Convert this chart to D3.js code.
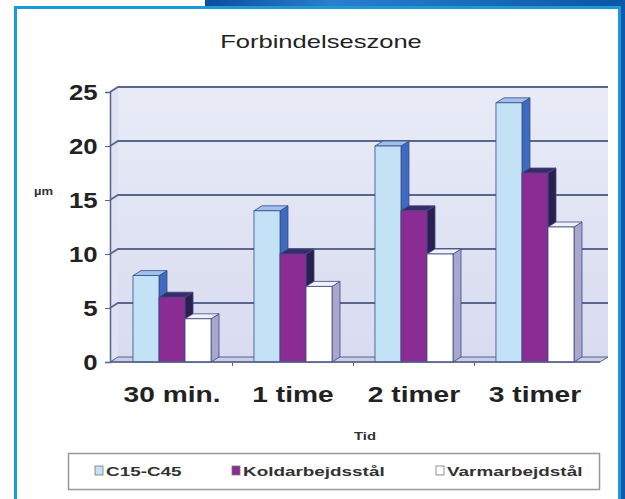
<!DOCTYPE html>
<html>
<head>
<meta charset="utf-8">
<script src="https://cdn.jsdelivr.net/npm/d3@7"></script>
<style>
  body { margin: 0; background: #fff; }
  svg { display: block; font-family: "Liberation Sans", Arial, sans-serif; }
</style>
</head>
<body>
<svg id="chart"></svg>
<script>
// data
const categories = ["30 min.", "1 time", "2 timer", "3 timer"];
const seriesNames = ["C15-C45", "Koldarbejdsstål", "Varmarbejdstål"];
const c15 = [8, 14, 20, 24];
const koldar = [6, 10, 14, 17.5];
const varm = [4, 7, 10, 12.5];
const yTicks = [0, 5, 10, 15, 20, 25];

const seriesValues = [c15, koldar, varm];
const faceColors = [
    { front: "#c4e2f6", top: "#9cc2ec", side: "#3e6bbf" },
    { front: "#8a2c93", top: "#3c2968", side: "#2a1f4e" },
    { front: "#ffffff", top: "#f1f1fa", side: "#a9a7cd" }
];

const W = 625, H = 499;
let svg = d3.select("#chart").attr("width", W).attr("height", H);

// the source picture is stretched sideways, so text is too
function wideText(parent, x, y, sx, txt) {
    return parent.append("text")
        .attr("transform", `translate(${x},${y}) scale(${sx},1)`)
        .text(txt);
}

// frame and top banner
let defs = svg.append("defs");
let bg = defs.append("linearGradient").attr("id", "banner").attr("x1", 0).attr("x2", 1);
bg.append("stop").attr("offset", 0).attr("stop-color", "#0b4c9e");
bg.append("stop").attr("offset", 0.3).attr("stop-color", "#2a7fcf");
bg.append("stop").attr("offset", 1).attr("stop-color", "#0a56a8");
svg.append("rect").attr("x", 205).attr("y", 0).attr("width", W - 205).attr("height", 8).attr("fill", "url(#banner)");
svg.append("rect").attr("x", 620).attr("y", 0).attr("width", 5).attr("height", H).attr("fill", "#0b5aab");
svg.append("rect").attr("x", 15.5).attr("y", 7.5).attr("width", 604).attr("height", 500)
    .attr("fill", "#fff").attr("stroke", "#1a9ad8").attr("stroke-width", 3);

// scales
const dx = 8, dy = -5;
const y = d3.scaleLinear().domain([0, 25]).range([362, 92]);
const x = d3.scaleBand().domain(categories).range([110, 597]).paddingInner(0.355).paddingOuter(0.19);
const xs = d3.scaleBand().domain(seriesNames).range([0, x.bandwidth()]);

const left = 110, right = 600;

// back wall
let wg = defs.append("linearGradient").attr("id", "wall").attr("x1", 0).attr("x2", 0).attr("y1", 0).attr("y2", 1);
wg.append("stop").attr("offset", 0).attr("stop-color", "#e9ebf7");
wg.append("stop").attr("offset", 1).attr("stop-color", "#d8dcef");
svg.append("rect").attr("x", left + dx).attr("y", y(25) + dy).attr("width", right - left)
    .attr("height", y(0) - y(25)).attr("fill", "url(#wall)");
// side wall
svg.append("path")
    .attr("d", `M${left},${y(25)} L${left + dx},${y(25) + dy} L${left + dx},${y(0) + dy} L${left},${y(0)} Z`)
    .attr("fill", "#dfe2f2");
// floor
svg.append("path")
    .attr("d", `M${left},${y(0)} L${left + dx},${y(0) + dy} L${right + dx},${y(0) + dy} L${right},${y(0)} Z`)
    .attr("fill", "#c9cde6").attr("stroke", "#56628f").attr("stroke-width", 1);

// gridlines
svg.append("g").selectAll("path").data(yTicks.filter(d => d > 0)).join("path")
    .attr("d", d => `M${left},${y(d)} L${left + dx},${y(d) + dy} L${right + dx},${y(d) + dy}`)
    .attr("fill", "none").attr("stroke", "#5a668f").attr("stroke-width", 1.8);

// y axis
let yAxis = svg.append("g").attr("transform", `translate(${left},0)`)
    .call(d3.axisLeft(y).tickValues(yTicks).tickSize(5).tickPadding(6));
yAxis.select(".domain").attr("stroke", "#56628f").attr("stroke-width", 1.5);
yAxis.selectAll(".tick line").attr("stroke", "#56628f");
yAxis.selectAll("text").attr("font-size", 23).attr("font-weight", "bold").attr("fill", "#222")
    .attr("font-family", "Liberation Sans, Arial, sans-serif")
    .attr("transform", "scale(1.12,1)");

// bars
let bars = [];
categories.forEach((c, i) => {
    seriesNames.forEach((s, j) => {
        bars.push({ cat: c, series: j, value: seriesValues[j][i] });
    });
});
let barG = svg.append("g").selectAll("g").data(bars).join("g")
    .attr("transform", d => `translate(${x(d.cat) + xs(seriesNames[d.series])},0)`);
const bw = xs.bandwidth();
barG.append("path") // side
    .attr("d", d => `M${bw},${y(d.value)} L${bw + dx},${y(d.value) + dy} L${bw + dx},${y(0) + dy} L${bw},${y(0)} Z`)
    .attr("fill", d => faceColors[d.series].side).attr("stroke", "#3b4a86").attr("stroke-width", 0.8);
barG.append("path") // top
    .attr("d", d => `M0,${y(d.value)} L${dx},${y(d.value) + dy} L${bw + dx},${y(d.value) + dy} L${bw},${y(d.value)} Z`)
    .attr("fill", d => faceColors[d.series].top).attr("stroke", "#3b4a86").attr("stroke-width", 0.8);
barG.append("rect") // front
    .attr("x", 0).attr("y", d => y(d.value)).attr("width", bw).attr("height", d => y(0) - y(d.value))
    .attr("fill", d => faceColors[d.series].front).attr("stroke", "#3b4a86").attr("stroke-width", 0.8);

// x axis
svg.append("line").attr("x1", left).attr("x2", right).attr("y1", y(0)).attr("y2", y(0))
    .attr("stroke", "#56628f").attr("stroke-width", 1.5);
svg.append("g").selectAll("line").data(categories.slice(1)).join("line")
    .attr("x1", d => x(d) - x.step() * x.paddingInner() / 2).attr("x2", d => x(d) - x.step() * x.paddingInner() / 2)
    .attr("y1", y(0)).attr("y2", y(0) + 4).attr("stroke", "#56628f");
let catG = svg.append("g").attr("font-size", 22).attr("font-weight", "bold").attr("fill", "#222")
    .attr("text-anchor", "middle");
categories.forEach(c => wideText(catG, x(c) + x.bandwidth() / 2, 402, 1.28, c));

// titles
wideText(svg, 321, 48, 1.42, "Forbindelseszone")
    .attr("text-anchor", "middle").attr("font-size", 18).attr("fill", "#222");
wideText(svg, 365, 440, 1.35, "Tid")
    .attr("text-anchor", "middle").attr("font-size", 11).attr("font-weight", "bold").attr("fill", "#333");
wideText(svg, 34, 195, 1.3, "µm")
    .attr("font-size", 10).attr("font-weight", "bold").attr("fill", "#333");

// legend
svg.append("rect").attr("x", 68.5).attr("y", 453.5).attr("width", 531).attr("height", 36)
    .attr("fill", "#fff").attr("stroke", "#999").attr("stroke-width", 1.5);
const legendX = [95, 232, 436];
let leg = svg.append("g").selectAll("g").data(seriesNames).join("g")
    .attr("transform", (d, i) => `translate(${legendX[i]},466)`);
leg.append("rect").attr("x", 0).attr("y", 0).attr("width", 8).attr("height", 9)
    .attr("fill", (d, i) => faceColors[i].front).attr("stroke", "#777").attr("stroke-width", 0.8);
leg.each(function (d) {
    wideText(d3.select(this), 11, 9.5, 1.4, d)
        .attr("font-size", 13.5).attr("font-weight", "bold").attr("fill", "#333");
});
</script>
</body>
</html>
